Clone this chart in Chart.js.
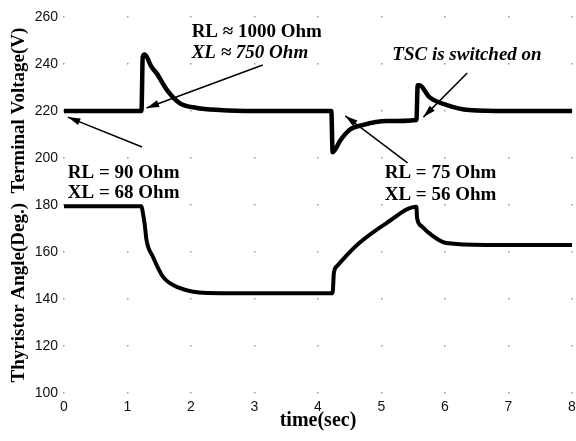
<!DOCTYPE html>
<html>
<head>
<meta charset="utf-8">
<script src="https://cdn.jsdelivr.net/npm/chart.js@4/dist/chart.umd.min.js"></script>
<style>
  html, body { margin: 0; padding: 0; background: #fff; }
  canvas { display: block; }
</style>
</head>
<body>
<canvas id="chart1" width="576" height="441"></canvas>
<script>
// terminal voltage (V) against time (s)
var voltTime = [0, 1.22, 1.24, 1.27, 1.38, 1.46, 1.62, 1.82, 2.09, 2.45, 3.0, 4.21, 4.23, 4.29, 4.34, 4.5, 4.7, 5.08, 5.55, 5.57, 5.6, 5.75, 6.02, 6.38, 7.0, 8.0];
var voltage  = [220, 220, 243, 244, 238.7, 236, 229, 223.4, 221.3, 220.4, 220, 220, 202.5, 204.5, 207, 212, 214, 215.7, 216.2, 231, 231, 226, 222.6, 220.4, 220, 220];

// thyristor firing angle (deg) against time (s)
var angleTime = [0, 1.22, 1.24, 1.27, 1.3, 1.4, 1.56, 1.82, 2.25, 3.0, 4.21, 4.23, 4.25, 4.3, 4.39, 4.65, 5.08, 5.55, 5.56, 5.63, 5.75, 6.02, 6.65, 8.0];
var angle     = [179.5, 179.5, 177, 172, 165, 158, 149.4, 144.7, 142.6, 142.5, 142.5, 142.5, 151, 154, 156.8, 163.8, 172.3, 179.3, 174.5, 171, 168, 163.8, 163, 163];

var xTicks = [0, 1, 2, 3, 4, 5, 6, 7, 8];
var yTicks = [100, 120, 140, 160, 180, 200, 220, 240, 260];

// annotation texts [time, value, text, italic]
var notes = [
    [2.01, 253.6, 'RL \u2248 1000 Ohm', false],
    [2.01, 244.7, 'XL \u2248 750 Ohm', true],
    [0.06, 193.6, 'RL = 90 Ohm', false],
    [0.06, 185.1, 'XL = 68 Ohm', false],
    [5.17, 243.8, 'TSC is switched on', true],
    [5.05, 193.6, 'RL = 75 Ohm', false],
    [5.05, 184.3, 'XL = 56 Ohm', false]
];
// arrows [tailT, tailV, headT, headV]
var arrows = [
    [3.13, 239.6, 1.30, 221.3],
    [1.23, 204.7, 0.06, 217.4],
    [6.35, 236.2, 5.66, 217.4],
    [5.41, 197.9, 4.43, 217.9]
];

function toPoints(xs, ys) {
    var pts = [];
    for (var i = 0; i < xs.length; i++) pts.push({x: xs[i], y: ys[i]});
    return pts;
}

var extras = {
    id: 'extras',
    beforeDatasetsDraw: function(chart) {
        var c = chart.ctx, sx = chart.scales.x, sy = chart.scales.y;
        c.save();
        c.fillStyle = '#9a9a9a';
        xTicks.forEach(function(t) {
            yTicks.forEach(function(v) {
                c.fillRect(Math.round(sx.getPixelForValue(t)) - 1, Math.round(sy.getPixelForValue(v)) - 1, 1.5, 1.5);
            });
        });
        c.restore();
    },
    afterDatasetsDraw: function(chart) {
        var c = chart.ctx, sx = chart.scales.x, sy = chart.scales.y;
        c.save();
        c.fillStyle = '#000';
        c.textBaseline = 'middle';
        c.textAlign = 'left';
        notes.forEach(function(n) {
            c.font = (n[3] ? 'italic ' : '') + 'bold 19px "Liberation Serif", "Times New Roman", serif';
            c.fillText(n[2], sx.getPixelForValue(n[0]), sy.getPixelForValue(n[1]));
        });
        c.strokeStyle = '#000';
        c.lineWidth = 1.5;
        arrows.forEach(function(a) {
            var x1 = sx.getPixelForValue(a[0]), y1 = sy.getPixelForValue(a[1]);
            var x2 = sx.getPixelForValue(a[2]), y2 = sy.getPixelForValue(a[3]);
            var ang = Math.atan2(y2 - y1, x2 - x1);
            c.beginPath();
            c.moveTo(x1, y1);
            c.lineTo(x2, y2);
            c.stroke();
            c.beginPath();
            c.moveTo(x2, y2);
            c.lineTo(x2 - 13 * Math.cos(ang - 0.28), y2 - 13 * Math.sin(ang - 0.28));
            c.lineTo(x2 - 13 * Math.cos(ang + 0.28), y2 - 13 * Math.sin(ang + 0.28));
            c.closePath();
            c.fill();
        });
        c.restore();
    }
};

var ctx = document.getElementById('chart1').getContext('2d');
var myChart = new Chart(ctx, {
    type: 'line',
    data: {
        datasets: [{
            label: 'Terminal Voltage',
            data: toPoints(voltTime, voltage),
            borderColor: '#000',
            borderWidth: 4.5,
            pointRadius: 0,
            cubicInterpolationMode: 'monotone',
            fill: false
        }, {
            label: 'Thyristor Angle',
            data: toPoints(angleTime, angle),
            borderColor: '#000',
            borderWidth: 4,
            pointRadius: 0,
            cubicInterpolationMode: 'monotone',
            fill: false
        }]
    },
    options: {
        responsive: false,
        animation: false,
        devicePixelRatio: 1,
        layout: { autoPadding: false, padding: { left: 6, top: 17, right: 0, bottom: 10 } },
        plugins: {
            legend: { display: false },
            tooltip: { enabled: false }
        },
        scales: {
            x: {
                type: 'linear',
                min: 0,
                max: 8,
                grid: { display: false, drawTicks: false },
                border: { display: false },
                ticks: {
                    stepSize: 1,
                    padding: 7,
                    color: '#111',
                    font: { family: '"Liberation Sans", Arial, sans-serif', size: 14, lineHeight: 1 }
                },
                title: {
                    display: true,
                    text: 'time(sec)',
                    color: '#000',
                    padding: { top: 0, bottom: 0 },
                    font: { family: '"Liberation Serif", "Times New Roman", serif', size: 20, weight: 'bold', lineHeight: 1 }
                },
                afterFit: function(scale) {
                    scale.height = 38;
                    scale.paddingRight = 4;
                    scale.paddingLeft = 0;
                }
            },
            y: {
                min: 100,
                max: 260,
                grid: { display: false, drawTicks: false },
                border: { display: false },
                ticks: {
                    stepSize: 20,
                    padding: 6,
                    color: '#111',
                    font: { family: '"Liberation Sans", Arial, sans-serif', size: 14, lineHeight: 1 }
                },
                title: {
                    display: true,
                    text: 'Thyristor Angle(Deg.)  Terminal Voltage(V)',
                    color: '#000',
                    padding: { top: 4, bottom: 5 },
                    font: { family: '"Liberation Serif", "Times New Roman", serif', size: 19, weight: 'bold', lineHeight: 1 }
                },
                afterFit: function(scale) {
                    scale.width = 58;
                }
            }
        }
    },
    plugins: [extras]
});
</script>
</body>
</html>
